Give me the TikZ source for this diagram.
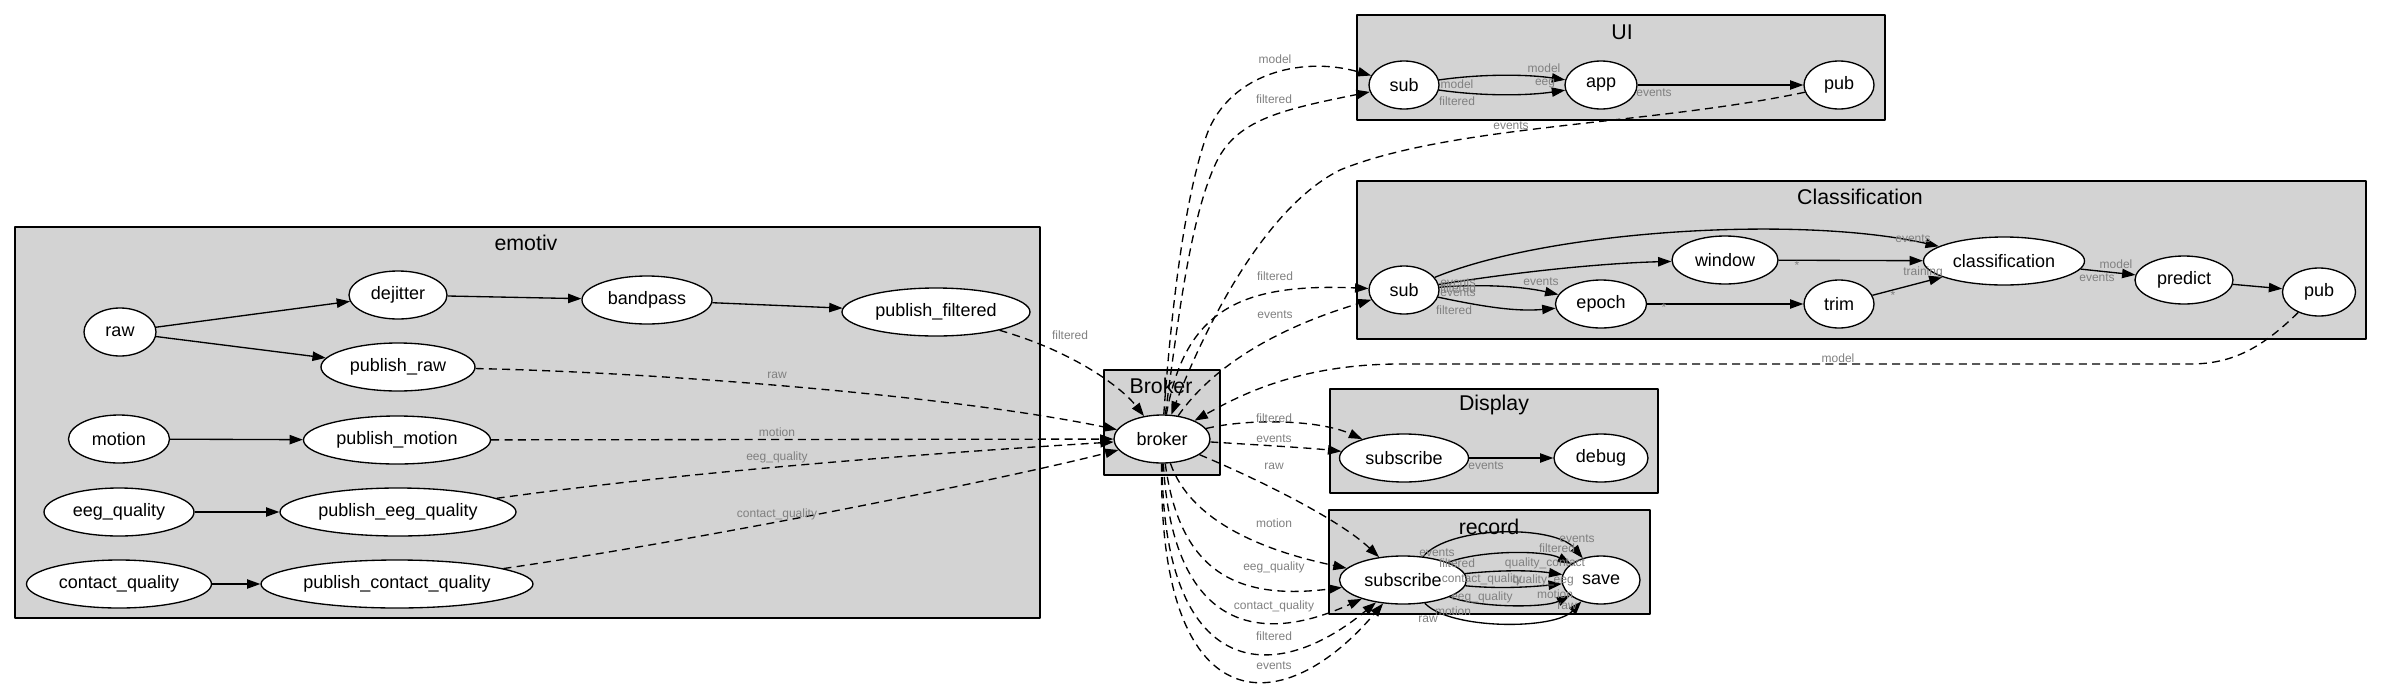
\documentclass[tikz,border=0pt]{standalone}
\usepackage{fontspec}
\setmainfont{Liberation Sans}
\usetikzlibrary{shapes.geometric,arrows.meta}
\definecolor{clusterfill}{RGB}{211,211,211}
\definecolor{labelgray}{RGB}{128,128,128}
\begin{document}
\begin{tikzpicture}[x=0.75pt, y=-0.75pt, line width=1pt, line join=round, >={Triangle[length=10pt,width=7pt]}]
\tikzset{
	cluster/.style={draw, fill=clusterfill},
	clab/.style={font=\fontsize{16}{19}\selectfont, inner sep=0pt},
	ell/.style={ellipse, draw, fill=white, inner sep=0pt, minimum height=36pt, font=\fontsize{13.5}{16}\selectfont},
	wd/.style={minimum width=#1*0.75pt},
	flow/.style={->},
	dep/.style={->, dash pattern=on 6pt off 4pt},
	lab/.style={font=\fontsize{9}{11}\selectfont, text=labelgray, inner sep=0pt}
}
\useasboundingbox (0,0) rectangle (2382,693);
% clusters
\draw[cluster] (15,227) rectangle (1040,618);
\draw[cluster] (1104,370) rectangle (1220,475);
\draw[cluster] (1357,15) rectangle (1885,120);
\draw[cluster] (1357,181) rectangle (2366,339);
\draw[cluster] (1330,389) rectangle (1658,493);
\draw[cluster] (1329,510) rectangle (1650,614);
\node[clab] (t-emotiv) at (526,243) {emotiv};
\node[clab] (t-broker) at (1161,386) {Broker};
\node[clab] (t-ui) at (1622,32) {UI};
\node[clab] (t-cls) at (1860,197) {Classification};
\node[clab] (t-disp) at (1494,405) {Display};
\node[clab] (t-rec) at (1489,527) {record};
% emotiv
\node[ell, wd=72] (raw) at (120,332) {raw};
\node[ell, wd=98] (dejitter) at (398,295) {dejitter};
\node[ell, wd=130] (bandpass) at (647,300) {bandpass};
\node[ell, wd=188] (pubfilt) at (936,312) {publish\_filtered};
\node[ell, wd=154] (pubraw) at (398,367) {publish\_raw};
\node[ell, wd=101] (motion) at (119,439) {motion};
\node[ell, wd=187] (pubmotion) at (397,440) {publish\_motion};
\node[ell, wd=150] (eegq) at (119,512) {eeg\_quality};
\node[ell, wd=236] (pubeegq) at (398,512) {publish\_eeg\_quality};
\node[ell, wd=185] (contq) at (119,584) {contact\_quality};
\node[ell, wd=272] (pubcontq) at (397,584) {publish\_contact\_quality};
% broker
\node[ell, wd=96] (broker) at (1162,439) {broker};
% UI
\node[ell, wd=70] (uisub) at (1404,85) {sub};
\node[ell, wd=72] (app) at (1601,85) {app};
\node[ell, wd=70] (uipub) at (1839,85) {pub};
% Classification
\node[ell, wd=70] (clssub) at (1404,290) {sub};
\node[ell, wd=106] (window) at (1725,260) {window};
\node[ell, wd=91] (epoch) at (1601,304) {epoch};
\node[ell, wd=70] (trim) at (1839,304) {trim};
\node[ell, wd=161] (classif) at (2004,261) {classification};
\node[ell, wd=98] (predict) at (2184,280) {predict};
\node[ell, wd=73] (clspub) at (2319,292) {pub};
% Display, record
\node[ell, wd=129] (dispsub) at (1404,458) {subscribe};
\node[ell, wd=94] (debug) at (1601,458) {debug};
\node[ell, wd=127] (recsub) at (1403,580) {subscribe};
\node[ell, wd=78] (save) at (1601,580) {save};

\draw[flow] (raw) -- (dejitter);
\draw[flow] (raw) -- (pubraw);
\draw[flow] (dejitter) -- (bandpass);
\draw[flow] (bandpass) -- (pubfilt);
\draw[flow] (motion) -- (pubmotion);
\draw[flow] (eegq) -- (pubeegq);
\draw[flow] (contq) -- (pubcontq);

\draw[flow] (uisub) .. controls (1480,74) and (1525,74) .. (app);
\draw[flow] (uisub) .. controls (1480,96) and (1525,96) .. (app);
\draw[flow] (app) -- (uipub);

\draw[flow] (clssub) .. controls (1550,230) and (1800,215) .. (classif);
\draw[flow] (clssub) .. controls (1530,270) and (1610,263) .. (window);
\draw[flow] (clssub) .. controls (1480,284) and (1520,286) .. (epoch);
\draw[flow] (clssub) .. controls (1480,306) and (1515,312) .. (epoch);
\draw[flow] (epoch) -- (trim);
\draw[flow] (window) -- (classif);
\draw[flow] (trim) -- (classif);
\draw[flow] (classif) -- (predict);
\draw[flow] (predict) -- (clspub);

\draw[flow] (dispsub) -- (debug);

\draw[flow] (recsub) .. controls (1450,525) and (1555,525) .. (save);
\draw[flow] (recsub) .. controls (1480,550) and (1545,550) .. (save);
\draw[flow] (recsub) .. controls (1500,570) and (1530,570) .. (save);
\draw[flow] (recsub) .. controls (1500,589) and (1530,587) .. (save);
\draw[flow] (recsub) .. controls (1480,608) and (1545,608) .. (save);
\draw[flow] (recsub) .. controls (1450,630) and (1555,630) .. (save);

% to and from the broker
\draw[dep] (pubfilt) .. controls (1075,352) and (1122,388) .. (broker);
\draw[dep] (pubraw) .. controls (650,372) and (950,395) .. (broker);
\draw[dep] (pubmotion) -- (broker);
\draw[dep] (pubeegq) .. controls (700,470) and (950,452) .. (broker);
\draw[dep] (pubcontq) .. controls (700,540) and (1000,480) .. (broker);
\draw[dep] (broker) .. controls (1172,300) and (1185,200) .. (1205,140) .. controls (1225,75) and (1300,55) .. (uisub);
\draw[dep] (broker) .. controls (1178,320) and (1190,220) .. (1215,165) .. controls (1235,120) and (1280,110) .. (uisub);
\draw[dep] (uipub) .. controls (1650,125) and (1450,125) .. (1340,170) .. controls (1260,210) and (1200,340) .. (broker);
\draw[dep] (broker) .. controls (1185,310) and (1240,283) .. (clssub);
\draw[dep] (broker) .. controls (1210,370) and (1270,330) .. (clssub);
\draw[dep] (clspub) .. controls (2260,350) and (2230,364) .. (2190,364) -- (1400,364) .. controls (1300,364) and (1240,395) .. (broker);
\draw[dep] (broker) .. controls (1250,418) and (1320,420) .. (dispsub);
\draw[dep] (broker) .. controls (1260,445) and (1310,448) .. (dispsub);
\draw[dep] (broker) .. controls (1260,480) and (1340,520) .. (recsub);
\draw[dep] (broker) .. controls (1190,520) and (1260,550) .. (recsub);
\draw[dep] (broker) .. controls (1180,575) and (1240,600) .. (recsub);
\draw[dep] (broker) .. controls (1172,620) and (1250,650) .. (recsub);
\draw[dep] (broker) .. controls (1163,675) and (1270,690) .. (recsub);
\draw[dep] (broker) .. controls (1158,720) and (1280,725) .. (recsub);

% edge labels
\foreach \x/\y/\t [count=\i] in {1070/335/filtered, 777/375/raw, 777/432/motion, 777/457/eeg\_quality, 777/514/contact\_quality,
	1275/59/model, 1274/99/filtered, 1511/126/events, 1275/276/filtered, 1275/315/events, 1838/358/model,
	1274/418/filtered, 1274/439/events, 1274/466/raw, 1274/523/motion, 1274/567/eeg\_quality,
	1274/606/contact\_quality, 1274/636/filtered, 1274/666/events}
	\node[lab] (lb\i) at (\x,\y) {\t};
\foreach \x/\y/\t [count=\i] in {1457/84/model, 1457/101/filtered, 1544/68/model, 1545/84/eeg, 1654/93/events}
	\node[lab] (lu\i) at (\x,\y) {\t};
\foreach \x/\y/\t [count=\i] in {1458/283/events, 1458/288/filtered, 1458/293/events, 1454/310/filtered, 1541/282/events,
	1913/239/events, 1797/265/*, 1923/272/training, 1893/295/*, 1664/307/*, 2116/264/model, 2097/278/events}
	\node[lab] (lc\i) at (\x,\y) {\t};
\node[lab] (ld1) at (1486,466) {events};
\foreach \x/\y/\t [count=\i] in {1437/553/events, 1457/563/filtered, 1482/579/contact\_quality, 1482/597/eeg\_quality,
	1453/611/motion, 1428/619/raw, 1577/539/events, 1557/548/filtered, 1545/563/quality\_contact,
	1543/580/quality\_eeg, 1555/594/motion, 1567/606/raw}
	\node[lab] (lr\i) at (\x,\y) {\t};
\end{tikzpicture}
\end{document}
